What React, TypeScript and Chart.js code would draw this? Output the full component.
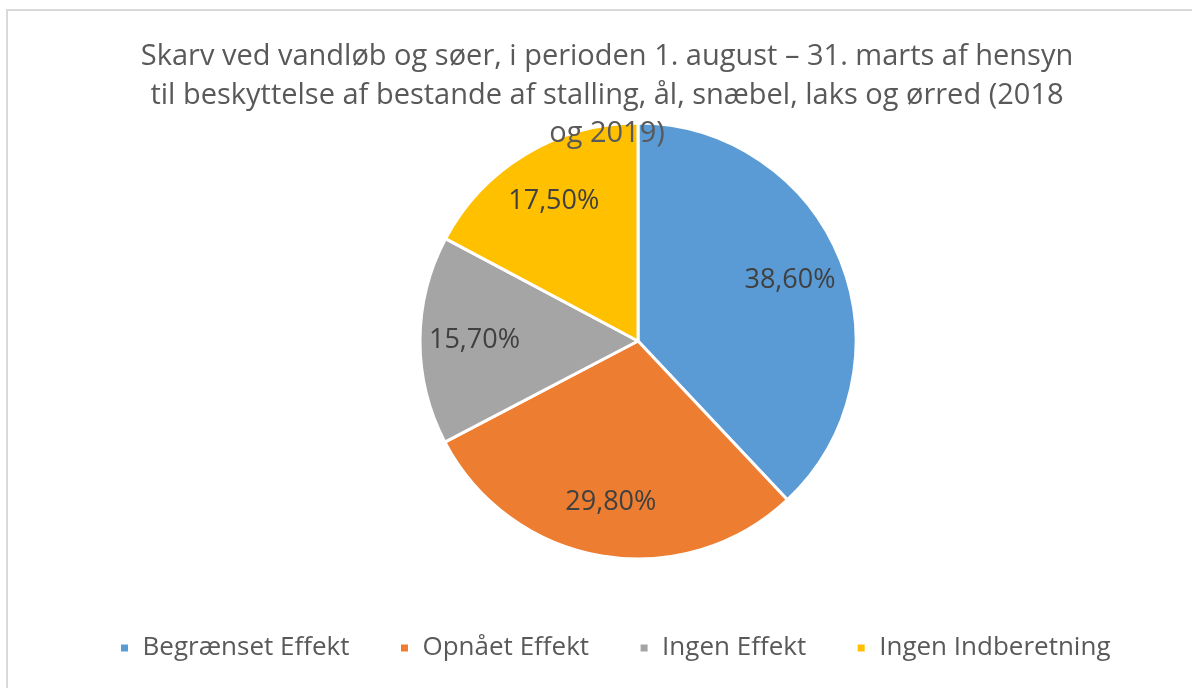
import React, { useEffect, useRef } from "react";
import { Chart, registerables } from "chart.js";

Chart.register(...registerables);

const titleLines = [
  "Skarv ved vandløb og søer, i perioden 1. august – 31. marts af hensyn",
  "til beskyttelse af bestande af stalling, ål, snæbel, laks og ørred (2018",
  "og 2019)",
];
const categories = ["Begrænset Effekt", "Opnået Effekt", "Ingen Effekt", "Ingen Indberetning"];
const shares = [38.6, 29.8, 15.7, 17.5];
const sliceColors = ["#5B9BD5", "#ED7D31", "#A5A5A5", "#FFC000"];

const FONT = "'Open Sans', sans-serif";
const fmtPct = (v: number) => v.toFixed(2).replace(".", ",") + "%";

const overTitle = {
  id: "overTitle",
  afterDraw(chart: any) {
    const ctx = chart.ctx;
    ctx.save();
    ctx.font = `29px ${FONT}`;
    ctx.fillStyle = "#595959";
    ctx.textAlign = "center";
    ctx.textBaseline = "alphabetic";
    titleLines.forEach((line, i) => ctx.fillText(line, 607, 65 + i * 38.5));
    ctx.restore();
  },
};

const sliceLabels = {
  id: "sliceLabels",
  afterDatasetsDraw(chart: any) {
    const ctx = chart.ctx;
    const meta = chart.getDatasetMeta(0);
    const values = chart.data.datasets[0].data as number[];
    ctx.save();
    ctx.font = `27px ${FONT}`;
    ctx.fillStyle = "#404040";
    ctx.textAlign = "center";
    ctx.textBaseline = "middle";
    meta.data.forEach((arc: any, i: number) => {
      const p = arc.getProps(["x", "y", "startAngle", "endAngle", "outerRadius"], true);
      const mid = (p.startAngle + p.endAngle) / 2;
      const r = p.outerRadius * 0.75;
      ctx.fillText(fmtPct(values[i]), p.x + Math.cos(mid) * r, p.y + Math.sin(mid) * r);
    });
    ctx.restore();
  },
};

const legendShift = {
  id: "legendShift",
  afterLayout(chart: any) {
    if (chart.legend) {
      chart.legend.left -= 23;
      chart.legend.right -= 23;
    }
  },
};

export default function App() {
  const ref = useRef<HTMLCanvasElement | null>(null);

  useEffect(() => {
    document.body.style.margin = "0";
    const canvas = ref.current;
    if (!canvas) return;
    const chart = new Chart(canvas, {
      type: "pie",
      data: {
        labels: categories,
        datasets: [
          {
            data: shares,
            backgroundColor: sliceColors,
            borderColor: "#ffffff",
            borderWidth: 3,
            radius: 218,
          },
        ],
      },
      options: {
        responsive: false,
        animation: false,
        layout: { padding: { left: 84, right: 0, top: 97, bottom: 17 } },
        plugins: {
          title: { display: false },
          tooltip: { enabled: false },
          legend: {
            position: "bottom",
            labels: {
              boxWidth: 10,
              boxHeight: 10,
              padding: 50,
              color: "#595959",
              font: { family: FONT, size: 26 },
            },
          },
        },
      },
      plugins: [overTitle, sliceLabels, legendShift],
    });
    return () => chart.destroy();
  }, []);

  return (
    <div style={{ position: "relative", width: 1192, height: 688, overflow: "hidden", background: "#fff" }}>
      <div
        style={{
          position: "absolute",
          left: 6,
          top: 9,
          width: 1400,
          height: 900,
          border: "2px solid #d9d9d9",
          boxSizing: "border-box",
        }}
      />
      <canvas ref={ref} width={1192} height={688} style={{ position: "absolute", left: 0, top: 0, width: 1192, height: 688 }} />
    </div>
  );
}
